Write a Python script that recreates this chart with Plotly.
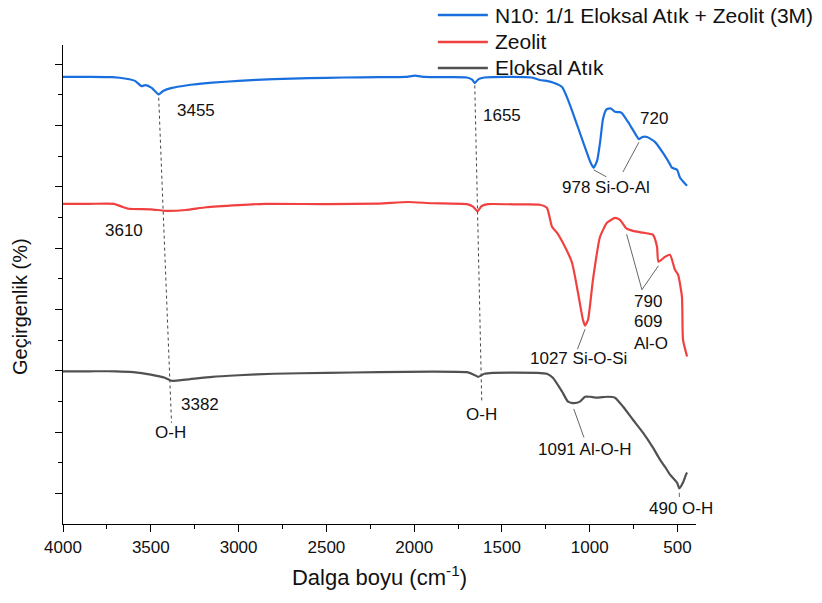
import plotly.graph_objects as go

# FTIR spectra, stacked with a vertical offset (arbitrary transmittance units)
series_names = ["N10: 1/1 Eloksal Atık + Zeolit (3M)", "Zeolit", "Eloksal Atık"]

n10_wn = [4000, 3850, 3720, 3640, 3590, 3553, 3530, 3495, 3455, 3430, 3380, 3300,
          3150, 3000, 2800, 2600, 2400, 2200, 2050, 1995, 1940, 1800, 1700, 1670,
          1655, 1635, 1600, 1450, 1330, 1284, 1240, 1210, 1158, 1130, 1096, 1056,
          1016, 995, 978, 958, 940, 925, 905, 880, 856, 830, 817, 782, 754, 720,
          700, 674, 629, 583, 545, 532, 503, 486, 466, 446]
n10_t = [14.58, 14.58, 14.57, 14.52, 14.45, 14.28, 14.31, 14.22, 14.01, 14.12, 14.22, 14.30,
         14.39, 14.45, 14.51, 14.54, 14.56, 14.57, 14.58, 14.62, 14.58, 14.57, 14.56, 14.49,
         14.38, 14.50, 14.56, 14.58, 14.56, 14.48, 14.44, 14.40, 14.25, 13.92, 13.40, 12.75,
         12.10, 11.78, 11.62, 11.85, 12.50, 13.20, 13.52, 13.55, 13.44, 13.43, 13.40, 13.11,
         12.85, 12.55, 12.62, 12.62, 12.46, 12.10, 11.75, 11.62, 11.55, 11.29, 11.15, 11.03]

zeo_wn = [4000, 3850, 3710, 3665, 3625, 3500, 3410, 3300, 3185, 3000, 2850, 2500, 2200,
          2035, 1900, 1700, 1665, 1640, 1615, 1580, 1400, 1284, 1244, 1215, 1187, 1153,
          1101, 1067, 1039, 1027, 1010, 982, 942, 902, 856, 828, 790, 754, 697, 640, 617,
          609, 572, 543, 515, 497, 475, 469, 446]
zeo_t = [10.44, 10.44, 10.44, 10.35, 10.28, 10.26, 10.21, 10.24, 10.33, 10.40, 10.44, 10.43, 10.45,
         10.50, 10.46, 10.43, 10.35, 10.20, 10.37, 10.43, 10.42, 10.41, 10.31, 9.69, 9.50, 9.17,
         8.52, 7.54, 6.66, 6.47, 6.66, 7.96, 9.36, 9.82, 9.98, 9.92, 9.63, 9.56, 9.50, 9.43, 9.04,
         8.55, 8.71, 8.78, 8.29, 8.13, 7.41, 6.01, 5.46]

elk_wn = [4000, 3850, 3700, 3600, 3500, 3420, 3382, 3300, 3150, 3000, 2800, 2500, 2200,
          1900, 1700, 1660, 1635, 1600, 1550, 1300, 1244, 1210, 1158, 1124, 1091, 1056,
          1027, 999, 959, 897, 856, 811, 754, 697, 640, 600, 572, 543, 503, 490, 469,
          452, 446]
elk_t = [4.98, 4.98, 4.98, 4.95, 4.87, 4.77, 4.67, 4.71, 4.80, 4.85, 4.90, 4.93, 4.95,
         4.97, 4.95, 4.87, 4.80, 4.90, 4.93, 4.93, 4.90, 4.77, 4.32, 3.99, 3.94, 3.99,
         4.15, 4.15, 4.12, 4.15, 4.12, 3.83, 3.40, 2.98, 2.49, 2.10, 1.87, 1.61, 1.35, 1.16, 1.35,
         1.61, 1.68]

x_ticks = [4000, 3500, 3000, 2500, 2000, 1500, 1000, 500]

FONT = "Liberation Sans, Arial, sans-serif"
colors = ["#1A6FDF", "#F14040", "#515151"]

fig = go.Figure()
for name, wn, t, c in zip(series_names, [n10_wn, zeo_wn, elk_wn], [n10_t, zeo_t, elk_t], colors):
    fig.add_trace(go.Scatter(x=wn, y=t, mode="lines", name=name, showlegend=False,
                             line=dict(color=c, width=2.2, shape="spline", smoothing=0.5)))

# guide lines linking bands between spectra
guide = dict(color="#444444", width=1, dash="dot")
fig.add_shape(type="line", xref="x", yref="y", x0=3455, y0=13.9, x1=3382, y1=3.3, line=guide)
fig.add_shape(type="line", xref="x", yref="y", x0=1655, y0=14.3, x1=1615, y1=3.95, line=guide)

pointer = dict(color="#555555", width=0.9)
pointers = [
    (978, 11.55, 905, 11.32),
    (720, 12.45, 811, 11.48),
    (1027, 6.35, 1070, 5.7),
    (790, 9.45, 703, 7.64),
    (609, 8.42, 703, 7.64),
    (1091, 3.75, 1033, 2.82),
    (490, 1.02, 490, 0.88),
]
for x0, y0, x1, y1 in pointers:
    fig.add_shape(type="line", xref="x", yref="y", x0=x0, y0=y0, x1=x1, y1=y1, line=pointer)

labels = [
    ("3455", 3364, 13.47, "left"),
    ("3610", 3654, 9.56, "center"),
    ("3382", 3221, 3.89, "center"),
    ("O-H", 3386, 2.98, "center"),
    ("1655", 1500, 13.31, "center"),
    ("O-H", 1614, 3.57, "center"),
    ("720", 634, 13.21, "center"),
    ("978 Si-O-Al", 908, 10.96, "center"),
    ("1027 Si-O-Si", 1067, 5.41, "center"),
    ("790", 760, 7.25, "left"),
    ("609", 760, 6.61, "left"),
    ("Al-O", 760, 5.90, "left"),
    ("1091 Al-O-H", 1027, 2.43, "center"),
    ("490 O-H", 483, 0.52, "center"),
]
for txt, x, y, anc in labels:
    fig.add_annotation(x=x, y=y, xref="x", yref="y", text=txt, showarrow=False,
                       xanchor=anc, yanchor="middle",
                       font=dict(family=FONT, size=17, color="#111111"))

# legend drawn in paper space
leg_y = [1.0626, 1.0063, 0.9520]
for name, c, ly in zip(series_names, colors, leg_y):
    fig.add_shape(type="line", xref="paper", yref="paper", x0=0.5922, x1=0.6712,
                  y0=ly, y1=ly, line=dict(color=c, width=2.5))
    fig.add_annotation(x=0.6791, y=ly, xref="paper", yref="paper", text=name,
                       showarrow=False, xanchor="left", yanchor="middle",
                       font=dict(family=FONT, size=21, color="#111111"))

# y-axis title
fig.add_annotation(x=-0.069, y=0.4536, xref="paper", yref="paper", text="Geçirgenlik (%)",
                   showarrow=False, textangle=-90, xanchor="center", yanchor="middle",
                   font=dict(family=FONT, size=20, color="#111111"))

fig.update_layout(
    width=822, height=603,
    margin=dict(l=63.3, r=126, t=45, b=78.5),
    paper_bgcolor="white", plot_bgcolor="white",
    font=dict(family=FONT, color="#111111"),
)
fig.update_xaxes(
    range=[4000, 395], tickvals=x_ticks, ticktext=[str(v) for v in x_ticks],
    ticks="outside", ticklen=7, tickwidth=1.3, tickcolor="black",
    minor=dict(dtick=250, tick0=0, ticks="outside", ticklen=4, tickwidth=1.3, tickcolor="black"),
    showline=True, linecolor="black", linewidth=1.3, showgrid=False, zeroline=False,
    tickfont=dict(family=FONT, size=17, color="#111111"),
    title=dict(text="Dalga boyu (cm<sup>-1</sup>)", standoff=14,
               font=dict(family=FONT, size=22, color="#111111")),
)
fig.update_yaxes(
    range=[0, 15.62], tickvals=list(range(1, 16, 2)), showticklabels=False,
    ticks="outside", ticklen=7, tickwidth=1.3, tickcolor="black",
    minor=dict(tickvals=list(range(2, 15, 2)), ticks="outside", ticklen=4, tickwidth=1.3,
               tickcolor="black"),
    showline=True, linecolor="black", linewidth=1.3, showgrid=False, zeroline=False,
)

fig.write_html("out.html")
